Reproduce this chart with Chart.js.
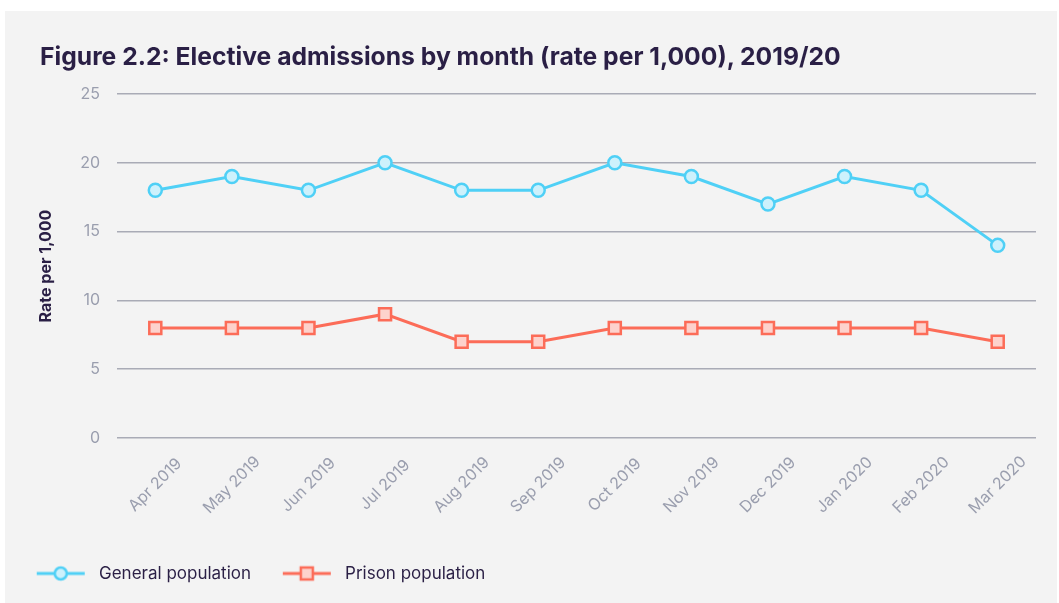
<!DOCTYPE html>
<html>
<head>
<meta charset="utf-8">
<script src="https://cdn.jsdelivr.net/npm/chart.js@4"></script>
<style>
  body { margin: 0; background: #fff; }
  #panel { position: absolute; left: 5px; top: 11px; width: 1052px; height: 592px; background: #f3f3f3; }
  #title { position: absolute; left: 35px; top: 30px; margin: 0; font: bold 24.7px Inter, "Noto Sans", sans-serif;
    line-height: 30px; color: #2a1f45; white-space: nowrap; }
  canvas { position: absolute; left: 0; top: 0; }
</style>
</head>
<body>
<div id="panel">
  <canvas id="chart" width="1052" height="592"></canvas>
  <h1 id="title">Figure 2.2: Elective admissions by month (rate per 1,000), 2019/20</h1>
</div>
<script>
// data
const months = ['Apr 2019', 'May 2019', 'Jun 2019', 'Jul 2019', 'Aug 2019', 'Sep 2019',
  'Oct 2019', 'Nov 2019', 'Dec 2019', 'Jan 2020', 'Feb 2020', 'Mar 2020'];
const generalPop = [18, 19, 18, 20, 18, 18, 20, 19, 17, 19, 18, 14];
const prisonPop = [8, 8, 8, 9, 7, 7, 8, 8, 8, 8, 8, 7];
const yTicks = [0, 5, 10, 15, 20, 25];

const FONT = 'Inter, "Noto Sans", sans-serif';
const DARK = '#2a1f45';
const GREY = '#9a9eae';

// legend icon: line with the marker, nudged a bit right inside a wider image
function legendIcon(stroke, fill, shape) {
  const c = document.createElement('canvas');
  c.width = 56; c.height = 18;
  const g = c.getContext('2d');
  const x0 = 7, cx = x0 + 24;
  g.strokeStyle = stroke; g.lineWidth = 3;
  g.beginPath(); g.moveTo(x0, 9); g.lineTo(x0 + 48, 9); g.stroke();
  g.fillStyle = fill; g.lineWidth = 2.5;
  g.beginPath();
  if (shape === 'circle') g.arc(cx, 9, 6, 0, Math.PI * 2);
  else g.rect(cx - 6, 3, 12, 12);
  g.fill(); g.stroke();
  return c;
}

// month labels centred under their ticks, rotated 45 degrees
const monthLabels = {
  id: 'monthLabels',
  afterDraw(chart) {
    const x = chart.scales.x;
    const ctx = chart.ctx;
    ctx.save();
    ctx.fillStyle = GREY;
    ctx.font = '16px ' + FONT;
    ctx.textAlign = 'center';
    ctx.textBaseline = 'middle';
    months.forEach((m, i) => {
      ctx.save();
      ctx.translate(x.getPixelForTick(i), x.top + 47);
      ctx.rotate(-Math.PI / 4);
      ctx.fillText(m, 0, 0);
      ctx.restore();
    });
    ctx.restore();
  }
};

new Chart(document.getElementById('chart'), {
  type: 'line',
  data: {
    labels: months,
    datasets: [
      {
        label: 'General population',
        data: generalPop,
        borderColor: '#4fd0f6',
        backgroundColor: '#cdf1fc',
        borderWidth: 3,
        pointStyle: 'circle',
        pointRadius: 6.5,
        pointBorderWidth: 2.5,
        tension: 0
      },
      {
        label: 'Prison population',
        data: prisonPop,
        borderColor: '#fc6c58',
        backgroundColor: '#fdd2cc',
        borderWidth: 3,
        pointStyle: 'rect',
        pointRadius: 8.5,
        pointBorderWidth: 2.5,
        tension: 0
      }
    ]
  },
  plugins: [monthLabels],
  options: {
    responsive: false,
    animation: false,
    layout: { padding: { left: 0, right: 21, top: 83, bottom: 11 } },
    plugins: {
      legend: {
        position: 'bottom',
        align: 'start',
        labels: {
          usePointStyle: true,
          pointStyleWidth: 65.5,
          color: DARK,
          font: { family: FONT, size: 17 },
          padding: 20,
          generateLabels: (chart) => chart.data.datasets.map((ds, i) => ({
            text: ds.label,
            datasetIndex: i,
            pointStyle: legendIcon(ds.borderColor, ds.backgroundColor, i === 0 ? 'circle' : 'rect'),
            fontColor: DARK,
            lineWidth: 0
          }))
        }
      },
      tooltip: { enabled: false }
    },
    scales: {
      x: {
        offset: true,
        grid: { display: false },
        border: { display: false },
        ticks: { display: false },
        afterFit: (scale) => { scale.height = 107; }
      },
      y: {
        min: 0,
        max: 25,
        afterBuildTicks: (axis) => { axis.ticks = yTicks.map(v => ({ value: v })); },
        afterFit: (scale) => { scale.width = 112; },
        grid: { color: '#a9abb6', lineWidth: 1.5, drawTicks: false },
        border: { display: false },
        title: {
          display: true,
          text: 'Rate per 1,000',
          color: DARK,
          font: { family: FONT, size: 16, weight: 'bold' },
          padding: { top: 32, bottom: 0 }
        },
        ticks: {
          color: GREY,
          font: { family: FONT, size: 16 },
          padding: 17
        }
      }
    }
  }
});
</script>
</body>
</html>
